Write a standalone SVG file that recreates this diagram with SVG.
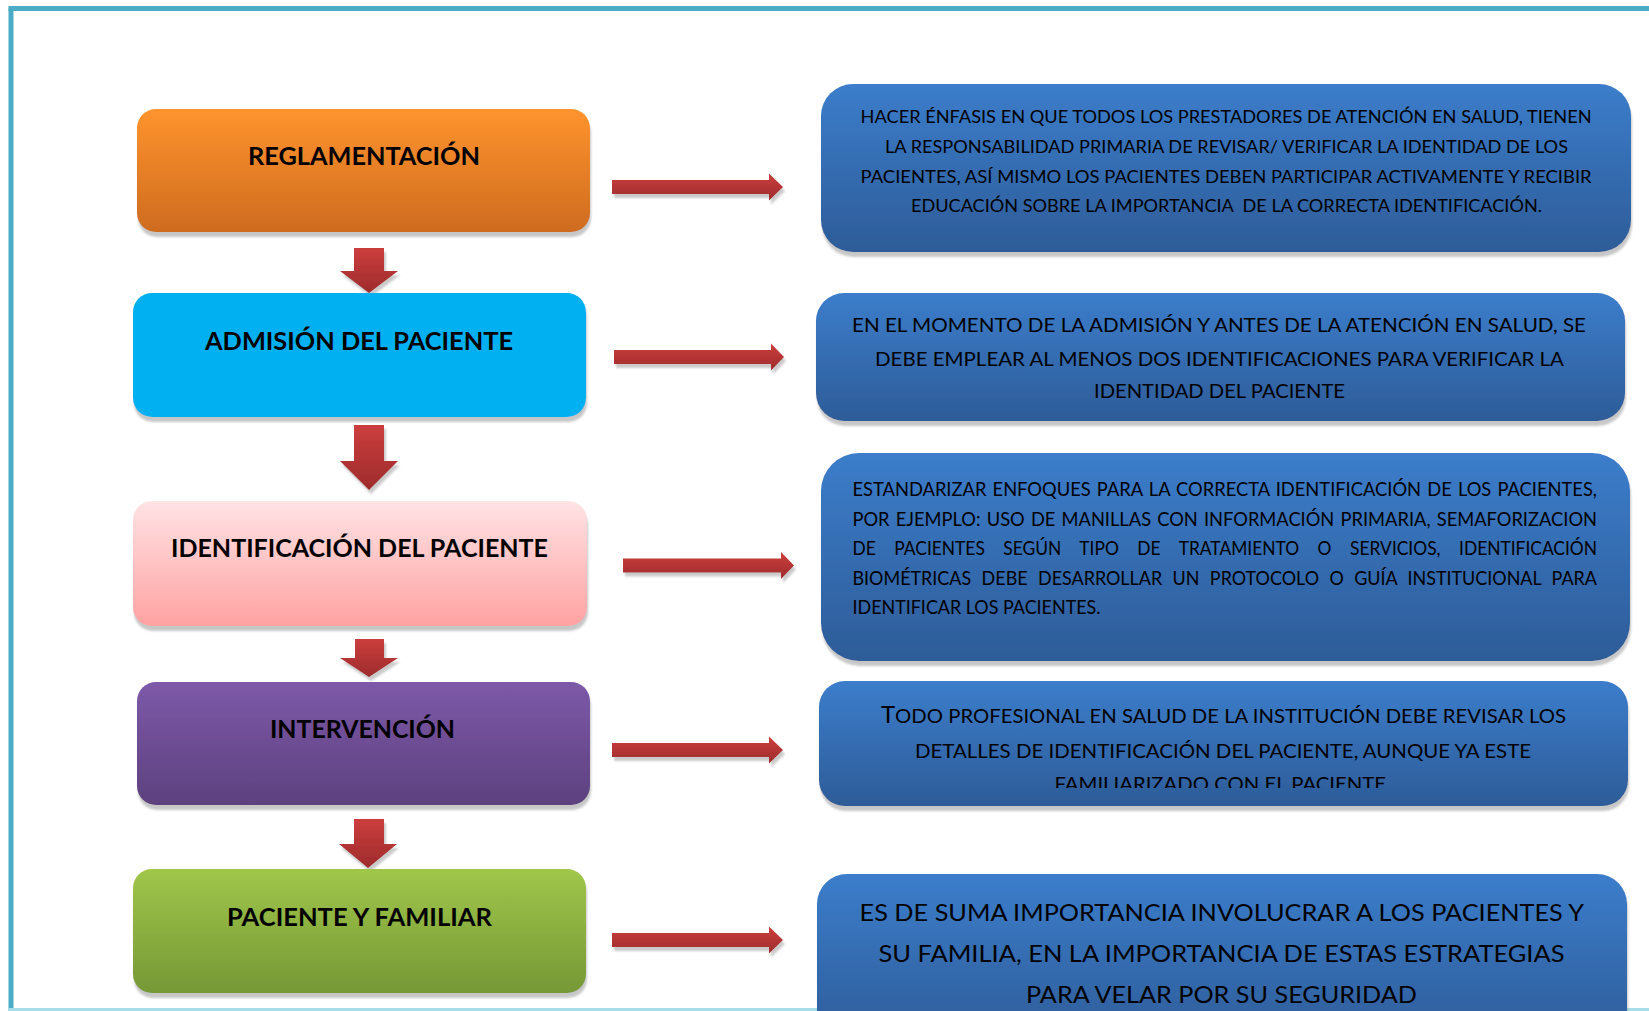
<svg xmlns="http://www.w3.org/2000/svg" width="1649" height="1011" viewBox="0 0 1649 1011">
<defs>
<linearGradient id="gOrange" x1="0" y1="0" x2="0" y2="1"><stop offset="0" stop-color="#FF942E"/><stop offset="1" stop-color="#CE6B1F"/></linearGradient>
<linearGradient id="gPink" x1="0" y1="0" x2="0" y2="1"><stop offset="0" stop-color="#FFE3E5"/><stop offset="1" stop-color="#FFA2A2"/></linearGradient>
<linearGradient id="gPurple" x1="0" y1="0" x2="0" y2="1"><stop offset="0" stop-color="#7D59A9"/><stop offset="1" stop-color="#5D417E"/></linearGradient>
<linearGradient id="gGreen" x1="0" y1="0" x2="0" y2="1"><stop offset="0" stop-color="#A0C64A"/><stop offset="1" stop-color="#769836"/></linearGradient>
<linearGradient id="gBlue" x1="0" y1="0" x2="0" y2="1"><stop offset="0" stop-color="#3C7DCB"/><stop offset="1" stop-color="#2D5C98"/></linearGradient>
<linearGradient id="gRed" x1="0" y1="0" x2="0" y2="1"><stop offset="0" stop-color="#CC3E3D"/><stop offset="1" stop-color="#9E2B2C"/></linearGradient>
<filter id="shadow" x="-5%" y="-10%" width="110%" height="130%"><feDropShadow dx="1" dy="5" stdDeviation="1" flood-color="#9A9A9A" flood-opacity="0.55"/></filter>
<filter id="ashadow" x="-10%" y="-20%" width="120%" height="160%"><feDropShadow dx="2" dy="4" stdDeviation="1" flood-color="#8A8A8A" flood-opacity="0.45"/></filter>
<clipPath id="clip4"><rect x="819" y="682" width="810" height="106"/></clipPath>
</defs>
<style>
.lbl{font-family:Lato,"Open Sans","Liberation Sans",sans-serif;font-weight:bold;font-size:25.5px;fill:#000}
.txt{font-family:Lato,"Open Sans","Liberation Sans",sans-serif;font-weight:normal;fill:#000}
.arrow{fill:url(#gRed);filter:url(#ashadow)}
.node{filter:url(#shadow)}
</style>
<rect x="0" y="0" width="1649" height="1011" fill="#FFFFFF"/>
<g id="frame">
<line x1="11" y1="8.5" x2="11" y2="1011" stroke="#4BACC6" stroke-width="5"/>
<line x1="8.5" y1="8.5" x2="1649" y2="8.5" stroke="#4BACC6" stroke-width="5"/>
<line x1="8.5" y1="1009.5" x2="1649" y2="1009.5" stroke="#A6DDE8" stroke-width="3"/>
</g>

<g id="connectors">
<path class="arrow" d="M354,248 H384 V271 H398 L369,293 L340,271 H354 Z"/>
<path class="arrow" d="M354,425 H384 V461 H398 L369,490 L340,461 H354 Z"/>
<path class="arrow" d="M355,639 H384 V658 H398 L369,677 L340,658 H355 Z"/>
<path class="arrow" d="M354,819 H384 V844 H397 L368,868 L339,844 H354 Z"/>
<path class="arrow" d="M612,180 H769 V173.5 L783,187 L769,200.5 V194 H612 Z"/>
<path class="arrow" d="M614,350 H771 V343.5 L784,357 L771,370.5 V364 H614 Z"/>
<path class="arrow" d="M623,558.5 H781 V552 L794,565.5 L781,579 V572.5 H623 Z"/>
<path class="arrow" d="M612,743 H769 V736.5 L783,750 L769,763.5 V757 H612 Z"/>
<path class="arrow" d="M612,933 H769 V926.5 L783,940 L769,953.5 V947 H612 Z"/>
</g>

<g id="reglamentacion">
<rect class="node" x="137" y="109" width="453" height="123" rx="19" fill="url(#gOrange)"/>
<text class="lbl" x="248" y="165" textLength="232" lengthAdjust="spacingAndGlyphs">REGLAMENTACIÓN</text>
</g>
<g id="admision">
<rect class="node" x="133" y="293" width="453" height="124" rx="19" fill="#00B0F0"/>
<text class="lbl" x="205" y="350" textLength="308" lengthAdjust="spacingAndGlyphs">ADMISIÓN DEL PACIENTE</text>
</g>
<g id="identificacion">
<rect class="node" x="133" y="501" width="454" height="125" rx="19" fill="url(#gPink)"/>
<text class="lbl" x="171" y="557" textLength="377" lengthAdjust="spacingAndGlyphs">IDENTIFICACIÓN DEL PACIENTE</text>
</g>
<g id="intervencion">
<rect class="node" x="137" y="682" width="453" height="123" rx="19" fill="url(#gPurple)"/>
<text class="lbl" x="270" y="738" textLength="185" lengthAdjust="spacingAndGlyphs">INTERVENCIÓN</text>
</g>
<g id="paciente-familiar">
<rect class="node" x="133" y="869" width="453" height="124" rx="19" fill="url(#gGreen)"/>
<text class="lbl" x="227" y="926" textLength="265" lengthAdjust="spacingAndGlyphs">PACIENTE Y FAMILIAR</text>
</g>

<g id="desc-reglamentacion">
<rect class="node" x="821" y="84" width="810" height="168" rx="32" fill="url(#gBlue)"/>
<g class="txt" font-size="17.7">
<text x="860.6" y="123" textLength="731" lengthAdjust="spacingAndGlyphs">HACER ÉNFASIS EN QUE TODOS LOS PRESTADORES DE ATENCIÓN EN SALUD, TIENEN</text>
<text x="885" y="153" textLength="683" lengthAdjust="spacingAndGlyphs">LA RESPONSABILIDAD PRIMARIA DE REVISAR/ VERIFICAR LA IDENTIDAD DE LOS</text>
<text x="860.6" y="182.5" textLength="731" lengthAdjust="spacingAndGlyphs">PACIENTES, ASÍ MISMO LOS PACIENTES DEBEN PARTICIPAR ACTIVAMENTE Y RECIBIR</text>
<text x="911" y="211.5" textLength="631" lengthAdjust="spacingAndGlyphs">EDUCACIÓN SOBRE LA IMPORTANCIA&#160; DE LA CORRECTA IDENTIFICACIÓN.</text>
</g>
</g>
<g id="desc-admision">
<rect class="node" x="816" y="293" width="809" height="128" rx="28" fill="url(#gBlue)"/>
<g class="txt" font-size="19.5">
<text x="852" y="332" textLength="734" lengthAdjust="spacingAndGlyphs">EN EL MOMENTO DE LA ADMISIÓN Y ANTES DE LA ATENCIÓN EN SALUD, SE</text>
<text x="875" y="365.5" textLength="689" lengthAdjust="spacingAndGlyphs">DEBE EMPLEAR AL MENOS DOS IDENTIFICACIONES PARA VERIFICAR LA</text>
<text x="1094" y="398" textLength="251" lengthAdjust="spacingAndGlyphs">IDENTIDAD DEL PACIENTE</text>
</g>
</g>
<g id="desc-identificacion">
<rect class="node" x="821" y="453" width="809" height="208" rx="38" fill="url(#gBlue)"/>
<g class="txt" font-size="18.5">
<text x="852.5" y="496" word-spacing="1.5" textLength="744.5" lengthAdjust="spacingAndGlyphs">ESTANDARIZAR ENFOQUES PARA LA CORRECTA IDENTIFICACIÓN DE LOS PACIENTES,</text>
<text x="852.5" y="525.5" word-spacing="1.5" textLength="744.5" lengthAdjust="spacingAndGlyphs">POR EJEMPLO: USO DE MANILLAS CON INFORMACIÓN PRIMARIA, SEMAFORIZACION</text>
<text x="852.5" y="555" word-spacing="15" textLength="744.5" lengthAdjust="spacingAndGlyphs">DE PACIENTES SEGÚN TIPO DE TRATAMIENTO O SERVICIOS, IDENTIFICACIÓN</text>
<text x="852.5" y="584.5" word-spacing="6" textLength="744.5" lengthAdjust="spacingAndGlyphs">BIOMÉTRICAS DEBE DESARROLLAR UN PROTOCOLO O GUÍA INSTITUCIONAL PARA</text>
<text x="852.5" y="614" textLength="248" lengthAdjust="spacingAndGlyphs">IDENTIFICAR LOS PACIENTES.</text>
</g>
</g>
<g id="desc-intervencion">
<rect class="node" x="819" y="681" width="809" height="125" rx="26" fill="url(#gBlue)"/>
<g class="txt" font-size="19.5">
<text x="881" y="723" textLength="685" lengthAdjust="spacingAndGlyphs"><tspan font-size="23">T</tspan>ODO PROFESIONAL EN SALUD DE LA INSTITUCIÓN DEBE REVISAR LOS</text>
<text x="915" y="757.5" textLength="616" lengthAdjust="spacingAndGlyphs">DETALLES DE IDENTIFICACIÓN DEL PACIENTE, AUNQUE YA ESTE</text>
<text x="1054.5" y="791" textLength="331.5" lengthAdjust="spacingAndGlyphs" clip-path="url(#clip4)">FAMILIARIZADO CON EL PACIENTE</text>
</g>
</g>
<g id="desc-paciente-familiar">
<rect class="node" x="817" y="874" width="810" height="170" rx="30" fill="url(#gBlue)"/>
<g class="txt" font-size="24">
<text x="859.6" y="920.7" textLength="724.4" lengthAdjust="spacingAndGlyphs">ES DE SUMA IMPORTANCIA INVOLUCRAR A LOS PACIENTES Y</text>
<text x="878.5" y="961.7" textLength="686" lengthAdjust="spacingAndGlyphs">SU FAMILIA, EN LA IMPORTANCIA DE ESTAS ESTRATEGIAS</text>
<text x="1026" y="1002.7" textLength="391" lengthAdjust="spacingAndGlyphs">PARA VELAR POR SU SEGURIDAD</text>
</g>
</g>
</svg>
